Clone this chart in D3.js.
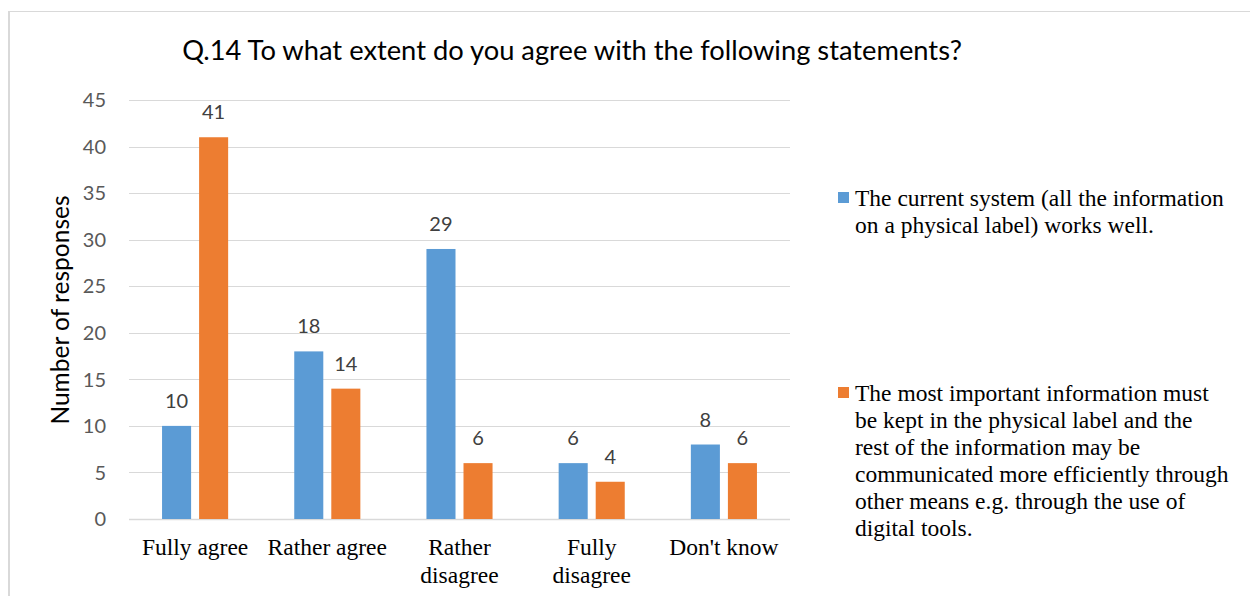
<!DOCTYPE html>
<html>
<head>
<meta charset="utf-8">
<script src="https://cdn.jsdelivr.net/npm/d3@7"></script>
<style>
  html, body { margin: 0; padding: 0; background: #fff; }
  svg { display: block; }
</style>
</head>
<body>
<svg id="chart" width="1250" height="596"></svg>
<script>
// Survey answers, Q.14
const categories = ["Fully agree", "Rather agree", "Rather disagree", "Fully disagree", "Don't know"];
const categoryLines = [["Fully agree"], ["Rather agree"], ["Rather", "disagree"], ["Fully", "disagree"], ["Don't know"]];
const seriesNames = [
  "The current system (all the information on a physical label) works well.",
  "The most important information must be kept in the physical label and the rest of the information may be communicated more efficiently through other means e.g. through the use of digital tools."
];
const legendLines = [
  ["The current system (all the information", "on a physical label) works well."],
  ["The most important information must", "be kept in the physical label and the", "rest of the information may be",
   "communicated more efficiently through", "other means e.g. through the use of", "digital tools."]
];
const currentSystem = [10, 18, 29, 6, 8];
const keepMostImportant = [41, 14, 6, 4, 6];
const yTicks = [0, 5, 10, 15, 20, 25, 30, 35, 40, 45];
const colors = ["#5b9bd5", "#ed7d31"];

const series = [currentSystem, keepMostImportant];
const svg = d3.select("#chart");

const sans = "Lato, 'Open Sans', sans-serif";
const serif = "'Liberation Serif', 'Times New Roman', serif";

// outer frame
svg.append("line").attr("x1", 9).attr("x2", 1250).attr("y1", 11.5).attr("y2", 11.5)
  .attr("stroke", "#d9d9d9").attr("stroke-width", 1);
svg.append("line").attr("x1", 9).attr("x2", 9).attr("y1", 11).attr("y2", 596)
  .attr("stroke", "#d9d9d9").attr("stroke-width", 2);

const plotLeft = 129, plotRight = 790, plotTop = 100, plotBottom = 519;

const x0 = d3.scaleBand().domain(categories).range([plotLeft, plotRight]).paddingInner(0.5).paddingOuter(0.25);
const x1 = d3.scaleBand().domain([0, 1]).range([0, x0.bandwidth()]).paddingInner(0.216).paddingOuter(0);
const y = d3.scaleLinear().domain([0, 45]).range([plotBottom, plotTop]);

// gridlines
svg.append("g").selectAll("line").data(yTicks).join("line")
  .attr("x1", plotLeft).attr("x2", plotRight)
  .attr("y1", d => Math.round(y(d)) + 0.5).attr("y2", d => Math.round(y(d)) + 0.5)
  .attr("stroke", "#d9d9d9").attr("stroke-width", d => d === 0 ? 1.5 : 1.2);

// y tick labels
svg.append("g").selectAll("text").data(yTicks).join("text")
  .attr("x", 106).attr("y", d => y(d)).attr("dy", "0.36em")
  .attr("text-anchor", "end")
  .attr("font-family", sans).attr("font-size", 20)
  .attr("fill", "#595959")
  .text(d => d);

// bars
const groups = svg.append("g").selectAll("g").data(categories).join("g")
  .attr("transform", d => `translate(${x0(d)},0)`);

groups.selectAll("rect").data((d, i) => series.map((s, k) => ({ k, v: s[i] }))).join("rect")
  .attr("x", d => x1(d.k)).attr("width", x1.bandwidth())
  .attr("y", d => y(d.v)).attr("height", d => y(0) - y(d.v))
  .attr("fill", d => colors[d.k]);

// value labels
groups.selectAll("text").data((d, i) => series.map((s, k) => ({ k, v: s[i] }))).join("text")
  .attr("x", d => x1(d.k) + x1.bandwidth() / 2)
  .attr("y", d => y(d.v) - 18)
  .attr("text-anchor", "middle")
  .attr("font-family", sans).attr("font-size", 20)
  .attr("fill", "#404040")
  .text(d => d.v);

// category labels
const catG = svg.append("g").selectAll("text").data(categories).join("text")
  .attr("x", d => x0(d) + x0.bandwidth() / 2)
  .attr("y", 555)
  .attr("text-anchor", "middle")
  .attr("font-family", serif).attr("font-size", 23.5)
  .attr("fill", "#000");
catG.selectAll("tspan").data((d, i) => categoryLines[i]).join("tspan")
  .attr("x", function () { return d3.select(this.parentNode).attr("x"); })
  .attr("dy", (d, i) => i === 0 ? 0 : 28)
  .text(d => d);

// y axis title
svg.append("text")
  .attr("transform", "translate(69,310) rotate(-90)")
  .attr("text-anchor", "middle")
  .attr("font-family", sans).attr("font-size", 24.5)
  .attr("fill", "#000")
  .text("Number of responses");

// chart title
svg.append("text")
  .attr("x", 572).attr("y", 60)
  .attr("text-anchor", "middle")
  .attr("font-family", sans).attr("font-size", 27.3)
  .attr("fill", "#000")
  .text("Q.14 To what extent do you agree with the following statements?");

// legend
const legendTop = [192, 387];
const legend = svg.append("g").selectAll("g").data(seriesNames).join("g");
legend.append("rect")
  .attr("x", 838).attr("y", (d, i) => legendTop[i])
  .attr("width", 11).attr("height", 11)
  .attr("fill", (d, i) => colors[i]);
const lt = legend.append("text")
  .attr("x", 855).attr("y", (d, i) => legendTop[i] + 14)
  .attr("font-family", serif).attr("font-size", 23.5)
  .attr("fill", "#000");
lt.selectAll("tspan").data((d, i) => legendLines[i]).join("tspan")
  .attr("x", 855)
  .attr("dy", (d, i) => i === 0 ? 0 : 27)
  .text(d => d);
</script>
</body>
</html>
